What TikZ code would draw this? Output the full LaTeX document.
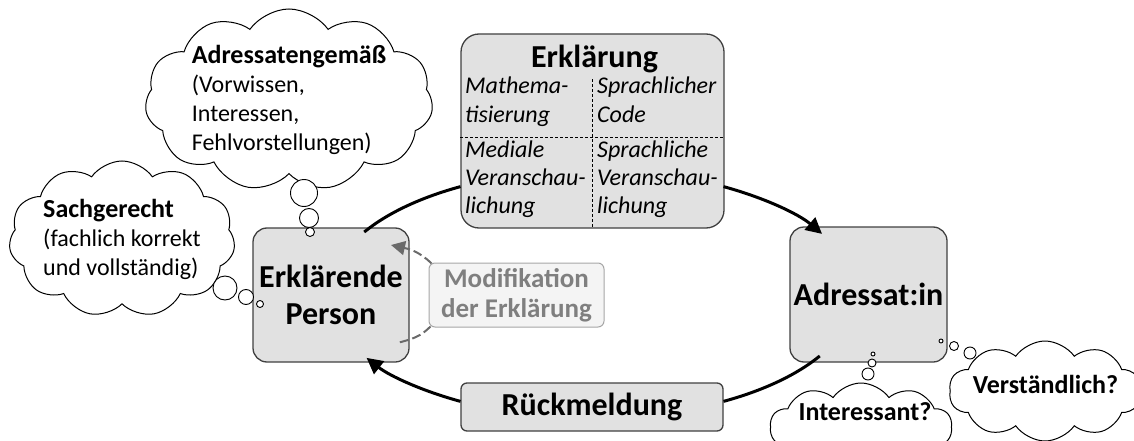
\documentclass[tikz,border=0pt]{standalone}
\usepackage{fontspec}
\setmainfont{Carlito}
\usetikzlibrary{shapes.symbols,arrows.meta,calc}
\definecolor{boxfill}{HTML}{E1E1E1}
\definecolor{boxline}{HTML}{404040}
\definecolor{modfill}{HTML}{F4F4F4}
\definecolor{modline}{HTML}{A6A6A6}
\definecolor{modtext}{HTML}{7F7F7F}
\definecolor{dashcol}{HTML}{6A6A6A}
\newcommand\mycloudbf{\fontsize{26}{29}\selectfont\bfseries}
\begin{document}
\begin{tikzpicture}[x=1pt,y=-1pt,
  mainbox/.style={draw=boxline, fill=boxfill, line width=1.3pt, align=center, inner sep=0pt},
  bigb/.style={font=\fontsize{32}{37}\selectfont\bfseries},
  modb/.style={font=\fontsize{27}{30}\selectfont\bfseries},
  itl/.style={font=\fontsize{24}{28}\selectfont\itshape, inner sep=0pt, anchor=base west},
  thought/.style={cloud, cloud puffs=11, cloud puff arc=110, cloud ignores aspect, draw, line width=1pt, fill=white, inner sep=-30pt, align=left},
  cloudb/.style={font=\mycloudbf},
  cloudtxt/.style={font=\fontsize{24}{29}\selectfont},
  bubble/.style={circle, draw, fill=white, line width=0.9pt, inner sep=0pt},
  flow/.style={line width=3pt, black},
  flowtip/.style={flow, -{Triangle[length=16pt,width=16pt]}},
  modflow/.style={draw=dashcol, line width=2pt, dash pattern=on 9pt off 4pt},
]
\useasboundingbox (0,0) rectangle (1134,441);

% main boxes
\node[mainbox, minimum width=156pt, minimum height=134pt, rounded corners=14pt, bigb] (EP) at (331,295) {Erklärende\\Person};
\node[mainbox, minimum width=263pt, minimum height=194pt, rounded corners=18pt] (ER) at (592.5,131) {};
\node[mainbox, minimum width=157pt, minimum height=135pt, rounded corners=14pt, bigb] (AD) at (868.5,294.5) {Adressat:in};
\node[mainbox, minimum width=262pt, minimum height=48pt, rounded corners=6pt, bigb] (RM) at (592,407) {Rückmeldung};
\node[draw=modline, fill=modfill, line width=1pt, rounded corners=6pt, minimum width=175pt, minimum height=64pt, inner sep=0pt, align=center, text=modtext, modb] (MOD) at (516.5,295) {Modifikation\\der Erklärung};

% Erklaerung contents
\node[bigb, inner sep=0pt, anchor=base] (ERt) at (594.5,68) {Erklärung};
\draw[line width=0.8pt, dash pattern=on 3pt off 2pt] (ER.west |- 0,137) -- (ER.east |- 0,137);
\draw[line width=0.8pt, dash pattern=on 3pt off 2pt] ($(ER.north)+(0,46)$) -- (ER.south);
\node[itl] (l1) at (465,94) {Mathema-};
\node[itl] (l2) at (465,123) {tisierung};
\node[itl] (r1) at (597,94) {Sprachlicher};
\node[itl] (r2) at (597,123) {Code};
\node[itl] (l3) at (465,157) {Mediale};
\node[itl] (l4) at (465,185) {Veranschau-};
\node[itl] (l5) at (465,213) {lichung};
\node[itl] (r3) at (597,157) {Sprachliche};
\node[itl] (r4) at (597,185) {Veranschau-};
\node[itl] (r5) at (597,213) {lichung};

% cycle arrows
\coordinate (C) at (592,294);
\draw[flow] (C) ++(210:263 and 124) arc[start angle=210, end angle=240, x radius=263, y radius=124];
\draw[flowtip] (C) ++(300:263 and 124) arc[start angle=300, end angle=331, x radius=263, y radius=124];
\draw[flow] (C) ++(30:263 and 124) arc[start angle=30, end angle=60, x radius=263, y radius=124];
\draw[flowtip] (C) ++(120:263 and 124) arc[start angle=120, end angle=149, x radius=263, y radius=124];

% modification arrows
\coordinate (mt) at (391,245);
\coordinate (mb) at (397,343);
\draw[modflow, -{Triangle[length=14pt,width=14pt]}] ([shift={(3,1)}]MOD.north west) .. controls +(-12,-12) and +(18,4) .. (mt);
\draw[modflow] ([shift={(2,-1)}]MOD.south west) .. controls +(-10,10) and +(16,-4) .. (mb);

% clouds
\node[thought, minimum width=288pt, minimum height=182pt, cloudtxt] (CA) at (289,100) {{\mycloudbf Adressatengemäß}\\(Vorwissen,\\Interessen,\\Fehlvorstellungen)};
\node[thought, minimum width=226pt, minimum height=156pt, cloudtxt] (CS) at (122,239) {{\mycloudbf Sachgerecht}\\(fachlich korrekt\\und vollständig)};
\node[thought, cloud puffs=10, inner sep=-15pt, minimum width=192pt, minimum height=100pt] (CV) at (1045,391) {};
\node[cloudb, inner sep=0pt, anchor=base] (CVt) at (1045.5,393) {Verständlich?};
\node[thought, cloud puffs=10, inner sep=-15pt, minimum width=182pt, minimum height=88pt] (CI) at (861,427) {};
\node[cloudb, inner sep=0pt, anchor=base] (CIt) at (865,420) {Interessant?};

% thought bubbles
\node[bubble, minimum size=27pt] (a1) at (304,193) {};
\node[bubble, minimum size=19pt] (a2) at (309,218) {};
\node[bubble, minimum size=9pt] (a3) at (310,232) {};
\node[bubble, minimum size=24pt] (s1) at (225,288) {};
\node[bubble, minimum size=15pt] (s2) at (246,297) {};
\node[bubble, minimum size=7pt] (s3) at (260,304) {};
\node[bubble, minimum size=4pt] (v1) at (941,341) {};
\node[bubble, minimum size=9pt] (v2) at (954,346) {};
\node[bubble, minimum size=12pt] (v3) at (970,353) {};
\node[bubble, minimum size=4pt] (i1) at (873,354) {};
\node[bubble, minimum size=8pt] (i2) at (872,363) {};
\node[bubble, minimum size=12pt] (i3) at (868,374) {};
\end{tikzpicture}
\end{document}
